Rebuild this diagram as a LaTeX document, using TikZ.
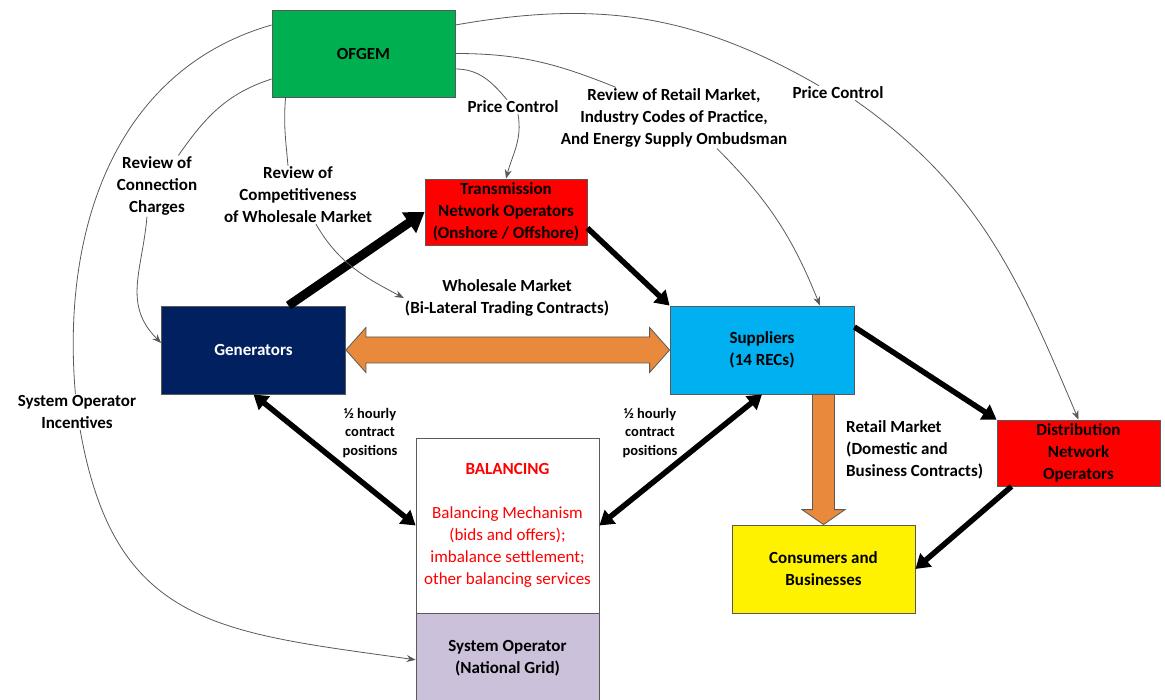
\documentclass[tikz,border=0pt]{standalone}
\usepackage{fontspec}
\setmainfont{Carlito}
\usepackage{xcolor}
\usetikzlibrary{arrows.meta,positioning,calc}

\definecolor{ofgemgreen}{HTML}{00B050}
\definecolor{gennavy}{HTML}{002060}
\definecolor{supblue}{HTML}{00B0F0}
\definecolor{solilac}{HTML}{CCC1DA}
\definecolor{mktorange}{HTML}{E8893B}
\definecolor{linegray}{HTML}{595959}

\tikzset{
  box/.style={draw=linegray, line width=0.8pt, align=center, inner sep=2pt,
    font=\fontsize{17}{22}\selectfont\bfseries},
  lbl/.style={align=center, inner sep=1pt, font=\fontsize{17}{22}\selectfont\bfseries},
  halfhr/.style={align=center, inner sep=1pt, font=\fontsize{14.5}{18.5}\selectfont\bfseries},
  regline/.style={draw=linegray, line width=0.8pt},
  regarrow/.style={regline, -{Stealth[length=9pt,width=7pt]}},
  flow/.style={line width=5.5pt, -{Triangle[length=14pt,width=17pt]}},
  biflow/.style={line width=5.5pt, {Triangle[length=14pt,width=17pt]}-{Triangle[length=14pt,width=17pt]}},
  fatarrow/.style={draw=linegray, line width=0.8pt, fill=mktorange, line join=miter}
}

\begin{document}
\begin{tikzpicture}[x=1pt, y=-1pt]
  \useasboundingbox (0,0) rectangle (1165,700);

  % boxes
  \node[box, fill=ofgemgreen, minimum width=183pt, minimum height=87pt] (ofgem) at (363.5,53.5) {OFGEM};
  \node[box, fill=red, minimum width=162pt, minimum height=66pt] (tno) at (506,212) {Transmission\\Network Operators\\(Onshore / Offshore)};
  \node[box, fill=gennavy, text=white, minimum width=184pt, minimum height=88pt] (gen) at (253.5,350) {Generators};
  \node[box, fill=supblue, minimum width=184pt, minimum height=88pt] (sup) at (762,350) {Suppliers\\(14 RECs)};
  \node[box, fill=red, minimum width=163pt, minimum height=66pt] (dno) at (1078.5,453) {Distribution\\Network\\Operators};
  \node[box, fill=yellow, minimum width=183pt, minimum height=88pt] (cons) at (823.5,569) {Consumers and\\Businesses};
  \node[box, fill=white, text=red, minimum width=183pt, minimum height=175pt] (bal) at (507.5,525.5)
    {BALANCING\\[22pt]{\mdseries Balancing Mechanism}\\{\mdseries (bids and offers);}\\{\mdseries imbalance settlement;}\\{\mdseries other balancing services}};
  \node[box, fill=solilac, minimum width=183pt, minimum height=88pt, below=0pt of bal] (so) {System Operator\\(National Grid)};

  % labels
  \node[lbl] (soinc) at (77,412) {System Operator\\Incentives};
  \node[lbl] (rcc) at (157,186) {Review of\\Connection\\Charges};
  \node[lbl] (rcw) at (298,195) {Review of\\Competitiveness\\of Wholesale Market};
  \node[lbl] (pc1) at (513,107) {Price Control};
  \node[lbl] (rrm) at (674,118) {Review of Retail Market,\\Industry Codes of Practice,\\And Energy Supply Ombudsman};
  \node[lbl] (pc2) at (838,93) {Price Control};
  \node[lbl] (wsm) at (507,298) {Wholesale Market\\(Bi-Lateral Trading Contracts)};
  \node[halfhr] (hh1) at (370,433) {½ hourly\\contract\\positions};
  \node[halfhr] (hh2) at (650,433) {½ hourly\\contract\\positions};
  \node[lbl, anchor=west, align=left] (retail) at (845,450) {Retail Market\\(Domestic and\\Business Contracts)};

  % wholesale and retail market arrows
  \draw[fatarrow] (gen.east) -- ++(20,-22.5) -- ++(0,9.5) -- ($(sup.west)+(-20,-13)$) -- ++(0,-9.5)
    -- (sup.west) -- ++(-20,22.5) -- ++(0,-9.5) -- ($(gen.east)+(20,13)$) -- ++(0,9.5) -- cycle;
  \draw[fatarrow] ($(cons.north |- sup.south)+(-11,0)$) -- ($(cons.north)+(-11,-15)$) -- ++(-10.5,0)
    -- (cons.north) -- ++(21.5,-15) -- ++(-10.5,0) -- ($(cons.north |- sup.south)+(11,0)$) -- cycle;

  % physical flows
  \draw[line width=9pt, -{Triangle[length=19pt,width=24pt]}] ([xshift=35pt]gen.north) -- (tno.west);
  \draw[flow] ([yshift=-16pt]tno.east) -- (sup.north west);
  \draw[flow] ([yshift=23pt]sup.east) -- (dno.north west);
  \draw[flow] ([xshift=-67pt]dno.south) -- (cons.east);
  \draw[biflow] (gen.south) -- (bal.west);
  \draw[biflow] (sup.south) -- (bal.east);

  % regulation by OFGEM
  \draw[regline] ([yshift=28.5pt]ofgem.west) to[out=196,in=95] (soinc);
  \draw[regarrow] (soinc) to[out=-80,in=172,looseness=1.25] ([yshift=-2pt]so.west);
  \draw[regline] ([yshift=-25.5pt]ofgem.west) to[out=198,in=55] (rcc);
  \draw[regarrow] ([xshift=-10pt]rcc.south) to[out=-95,in=135,looseness=1.1] ([yshift=7pt]gen.west);
  \draw[regline] ([xshift=14pt]ofgem.south west) to[out=-95,in=95] ([xshift=-10pt]rcw.north);
  \draw[regarrow] ([xshift=18pt]rcw.south) to[out=-60,in=152] (wsm.west);
  \draw[regline] ([yshift=-15.5pt]ofgem.east) to[out=0,in=130] ([xshift=-6pt]pc1.north);
  \draw[regarrow] ([xshift=5pt]pc1.south) to[out=-80,in=75] (tno.north);
  \draw[regline] (ofgem.east) to[out=0,in=158] ([xshift=-58pt]rrm.north);
  \draw[regarrow] ([xshift=43pt]rrm.south) to[out=-45,in=112] ([xshift=58pt]sup.north);
  \draw[regline] ([yshift=28.5pt]ofgem.east) to[out=10,in=150] ([xshift=-19pt]pc2.north);
  \draw[regarrow] ([xshift=17pt]pc2.south) to[out=-35,in=113] (dno.north);
\end{tikzpicture}
\end{document}
